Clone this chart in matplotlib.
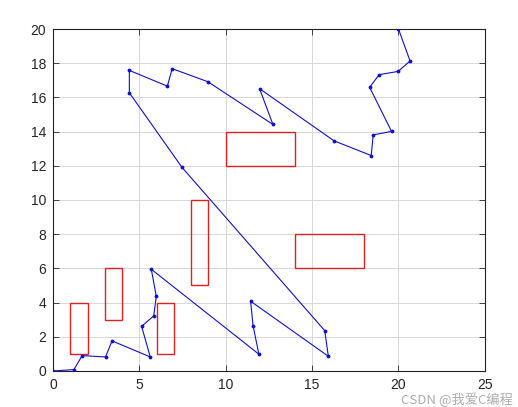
import matplotlib
matplotlib.use("Agg")
import matplotlib.pyplot as plt
from matplotlib.patches import Rectangle

path_x = [0, 1.21, 1.69, 3.04, 3.42, 5.63, 5.13, 5.83, 5.98, 5.69, 11.92, 11.58, 11.44,
          15.94, 15.73, 7.46, 4.42, 4.42, 6.62, 6.90, 8.96, 12.73, 11.96, 16.27, 18.42,
          18.54, 19.60, 18.33, 18.88, 19.98, 20.67, 20.0]
path_y = [0, 0.08, 0.90, 0.82, 1.76, 0.82, 2.61, 3.22, 4.37, 5.95, 0.98, 2.65, 4.08,
          0.86, 2.36, 11.92, 16.27, 17.58, 16.66, 17.68, 16.92, 14.42, 16.51, 13.46, 12.60,
          13.81, 14.01, 16.59, 17.33, 17.52, 18.13, 20.0]

# obstacles: x, y, width, height
obs_x = [1, 3, 6, 8, 10, 14]
obs_y = [1, 3, 1, 5, 12, 6]
obs_w = [1, 1, 1, 1, 4, 4]
obs_h = [3, 3, 3, 5, 2, 2]

xticks = [0, 5, 10, 15, 20, 25]
yticks = [0, 2, 4, 6, 8, 10, 12, 14, 16, 18, 20]

plt.rcParams['font.family'] = ['Liberation Sans', 'DejaVu Sans']

fig = plt.figure(figsize=(5.18, 4.07), dpi=100)
ax = fig.add_axes([0.1023, 0.0885, 0.8337, 0.8402])

for x, y, w, h in zip(obs_x, obs_y, obs_w, obs_h):
    ax.add_patch(Rectangle((x, y), w, h, fill=False, edgecolor='#e02020', linewidth=1.0, zorder=2))

ax.plot(path_x, path_y, color='#1010d0', linewidth=0.8, marker='.', markersize=3.5, zorder=3)

ax.set_xlim(0, 25)
ax.set_ylim(0, 20)
ax.set_xticks(xticks)
ax.set_yticks(yticks)
ax.grid(True, color='#d8d8d8', linewidth=0.7)
ax.set_axisbelow(True)
ax.tick_params(direction='in', top=True, right=True, labelsize=10, length=4, width=0.6,
               colors='#262626', pad=5)
for s in ax.spines.values():
    s.set_linewidth(0.8)
    s.set_color('#222222')

fig.text(0.99, 0.0, 'CSDN @我爱C编程', ha='right', va='bottom', fontsize=9.5,
         color='#999999', alpha=0.8, family=['Noto Sans CJK SC', 'DejaVu Sans'])

fig.savefig('out.png', dpi=100)
